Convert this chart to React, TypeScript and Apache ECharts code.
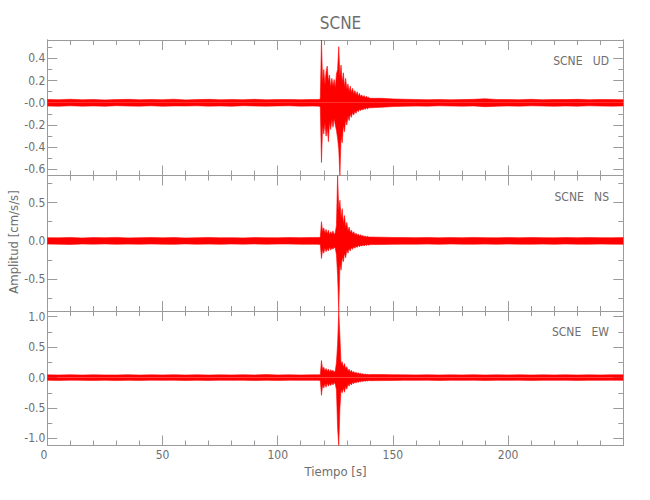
import React, { useEffect, useRef } from "react";
import * as echarts from "echarts";

// ---- time grids (s) ----
const tBefore = [0, 5, 10, 15, 20, 25, 30, 35, 40, 45, 50, 55, 60, 65, 70, 75, 80, 85, 90, 95, 100, 105, 110, 115];
const tEvent = [118, 118.5, 119, 119.5, 120, 120.5, 121, 121.5, 122, 122.5, 123, 123.5, 124, 124.5, 125, 125.5, 126, 126.5, 127, 127.5, 128, 128.5, 129, 129.5, 130, 130.5, 131, 131.5, 132, 132.5, 133, 133.5, 134, 134.5, 135, 135.5, 136, 136.5, 137, 137.5, 138, 138.5, 139, 139.5, 140];
const tAfter = [145, 150, 155, 160, 165, 170, 175, 180, 185, 190, 195, 200, 205, 210, 215, 220, 225, 230, 235, 240, 245, 250];

// ---- UD envelope (upper / lower peaks) ----
const udUpBefore = [0.030, 0.028, 0.032, 0.027, 0.030, 0.026, 0.029, 0.031, 0.027, 0.030, 0.028, 0.032, 0.026, 0.029, 0.031, 0.027, 0.030, 0.028, 0.031, 0.027, 0.029, 0.030, 0.028, 0.030];
const udLoBefore = [-0.029, -0.031, -0.027, -0.030, -0.028, -0.031, -0.026, -0.029, -0.030, -0.027, -0.031, -0.028, -0.029, -0.027, -0.030, -0.028, -0.031, -0.026, -0.029, -0.030, -0.028, -0.027, -0.030, -0.029];
const udUpEvent = [0.03, 0.04, 0.565, 0.18, 0.30, 0.16, 0.28, 0.33, 0.19, 0.25, 0.14, 0.22, 0.15, 0.21, 0.13, 0.26, 0.30, 0.505, 0.24, 0.34, 0.18, 0.27, 0.14, 0.22, 0.12, 0.17, 0.10, 0.15, 0.09, 0.13, 0.08, 0.11, 0.07, 0.10, 0.06, 0.085, 0.055, 0.07, 0.05, 0.065, 0.045, 0.06, 0.045, 0.05, 0.04];
const udLoEvent = [-0.03, -0.04, -0.537, -0.20, -0.28, -0.18, -0.30, -0.22, -0.35, -0.17, -0.24, -0.15, -0.22, -0.14, -0.20, -0.25, -0.32, -0.42, -0.654, -0.30, -0.36, -0.20, -0.26, -0.15, -0.20, -0.12, -0.16, -0.10, -0.13, -0.085, -0.11, -0.075, -0.095, -0.065, -0.08, -0.06, -0.07, -0.055, -0.065, -0.05, -0.06, -0.045, -0.055, -0.045, -0.045];
const udUpAfter = [0.040, 0.035, 0.032, 0.030, 0.028, 0.030, 0.027, 0.029, 0.031, 0.036, 0.030, 0.029, 0.028, 0.031, 0.027, 0.030, 0.029, 0.031, 0.028, 0.030, 0.029, 0.028];
const udLoAfter = [-0.040, -0.034, -0.031, -0.029, -0.030, -0.027, -0.029, -0.030, -0.028, -0.035, -0.031, -0.028, -0.030, -0.027, -0.029, -0.031, -0.028, -0.030, -0.027, -0.029, -0.030, -0.028];

// ---- NS envelope ----
const nsUpBefore = [0.042, 0.040, 0.045, 0.038, 0.043, 0.041, 0.046, 0.039, 0.042, 0.044, 0.040, 0.043, 0.038, 0.041, 0.044, 0.040, 0.042, 0.039, 0.043, 0.041, 0.040, 0.044, 0.042, 0.045];
const nsLoBefore = [-0.041, -0.043, -0.046, -0.040, -0.042, -0.039, -0.044, -0.041, -0.043, -0.040, -0.042, -0.045, -0.039, -0.043, -0.041, -0.044, -0.040, -0.042, -0.039, -0.043, -0.041, -0.040, -0.044, -0.043];
const nsUpEvent = [0.045, 0.05, 0.25, 0.12, 0.17, 0.10, 0.15, 0.09, 0.14, 0.08, 0.12, 0.09, 0.13, 0.08, 0.11, 0.20, 0.852, 0.40, 0.53, 0.30, 0.42, 0.22, 0.33, 0.17, 0.24, 0.13, 0.18, 0.11, 0.14, 0.09, 0.12, 0.08, 0.10, 0.07, 0.09, 0.065, 0.08, 0.06, 0.07, 0.055, 0.065, 0.05, 0.06, 0.05, 0.05];
const nsLoEvent = [-0.045, -0.05, -0.23, -0.11, -0.16, -0.09, -0.14, -0.10, -0.13, -0.08, -0.12, -0.09, -0.11, -0.08, -0.10, -0.18, -0.45, -0.913, -0.30, -0.38, -0.22, -0.27, -0.16, -0.22, -0.12, -0.16, -0.10, -0.13, -0.085, -0.11, -0.075, -0.095, -0.07, -0.085, -0.06, -0.075, -0.055, -0.07, -0.05, -0.065, -0.05, -0.06, -0.048, -0.055, -0.048];
const nsUpAfter = [0.048, 0.045, 0.043, 0.042, 0.044, 0.040, 0.043, 0.041, 0.045, 0.042, 0.040, 0.043, 0.041, 0.044, 0.042, 0.040, 0.043, 0.041, 0.044, 0.042, 0.041, 0.043];
const nsLoAfter = [-0.047, -0.044, -0.042, -0.043, -0.041, -0.044, -0.040, -0.042, -0.043, -0.041, -0.044, -0.040, -0.042, -0.043, -0.041, -0.044, -0.040, -0.042, -0.043, -0.041, -0.042, -0.044];

// ---- EW envelope ----
const ewUpBefore = [0.045, 0.043, 0.047, 0.042, 0.046, 0.044, 0.043, 0.048, 0.042, 0.045, 0.044, 0.047, 0.043, 0.046, 0.042, 0.045, 0.044, 0.047, 0.043, 0.050, 0.044, 0.046, 0.043, 0.045];
const ewLoBefore = [-0.044, -0.046, -0.042, -0.045, -0.047, -0.043, -0.049, -0.044, -0.046, -0.042, -0.045, -0.043, -0.047, -0.044, -0.046, -0.042, -0.045, -0.043, -0.048, -0.044, -0.046, -0.043, -0.045, -0.044];
const ewUpEvent = [0.045, 0.05, 0.28, 0.13, 0.17, 0.11, 0.15, 0.10, 0.14, 0.09, 0.13, 0.10, 0.12, 0.09, 0.11, 0.25, 0.55, 1.094, 0.67, 0.22, 0.26, 0.17, 0.23, 0.14, 0.18, 0.11, 0.14, 0.09, 0.12, 0.08, 0.10, 0.07, 0.09, 0.065, 0.08, 0.06, 0.07, 0.055, 0.065, 0.05, 0.06, 0.05, 0.055, 0.048, 0.05];
const ewLoEvent = [-0.045, -0.05, -0.29, -0.12, -0.17, -0.10, -0.16, -0.09, -0.14, -0.10, -0.13, -0.09, -0.12, -0.08, -0.11, -0.20, -0.83, -1.115, -0.50, -0.20, -0.25, -0.17, -0.24, -0.14, -0.19, -0.11, -0.14, -0.09, -0.12, -0.08, -0.10, -0.07, -0.09, -0.065, -0.08, -0.06, -0.07, -0.055, -0.065, -0.05, -0.06, -0.05, -0.055, -0.048, -0.05];
const ewUpAfter = [0.050, 0.047, 0.045, 0.044, 0.046, 0.043, 0.045, 0.044, 0.047, 0.043, 0.045, 0.044, 0.046, 0.043, 0.045, 0.044, 0.046, 0.043, 0.045, 0.044, 0.046, 0.045];
const ewLoAfter = [-0.049, -0.046, -0.044, -0.045, -0.043, -0.046, -0.044, -0.045, -0.043, -0.046, -0.044, -0.045, -0.043, -0.046, -0.044, -0.045, -0.043, -0.046, -0.044, -0.045, -0.043, -0.045];

// ---- ticks ----
const xTicks = [0, 50, 100, 150, 200];
const udTicks = [-0.6, -0.4, -0.2, 0, 0.2, 0.4];
const udMinor = [-0.5, -0.3, -0.1, 0.1, 0.3, 0.5];
const nsTicks = [-0.5, 0, 0.5];
const nsMinor = [-0.75, -0.25, 0.25, 0.75];
const ewTicks = [-1, -0.5, 0, 0.5, 1];
const ewMinor = [-0.75, -0.25, 0.25, 0.75];
const panelNames = ["SCNE   UD", "SCNE   NS", "SCNE   EW"];

const AXIS = "#9b9b9b";
const TEXT = "#6e6e6e";
const RED = "#ff0000";
const FONT = "'Liberation Sans Narrow', 'DejaVu Sans Condensed', 'Liberation Sans', sans-serif";

const seg = (t: number[], v: number[]) => {
  const n = Math.min(t.length, v.length);
  const out: number[][] = [];
  for (let i = 0; i < n; i++) out.push([t[i], v[i]]);
  return out;
};
const trace = (b: number[], e: number[], a: number[]) => [...seg(tBefore, b), ...seg(tEvent, e), ...seg(tAfter, a)];

export default function App() {
  const ref = useRef<HTMLDivElement>(null);
  useEffect(() => {
    if (!ref.current) return;
    const chart = echarts.init(ref.current, null, { renderer: "svg" });

    const panels = [
      { up: trace(udUpBefore, udUpEvent, udUpAfter), lo: trace(udLoBefore, udLoEvent, udLoAfter), majors: udTicks, minors: udMinor, fmt: (v: number) => (v === 0 ? "-0.0" : v.toFixed(1)) },
      { up: trace(nsUpBefore, nsUpEvent, nsUpAfter), lo: trace(nsLoBefore, nsLoEvent, nsLoAfter), majors: nsTicks, minors: nsMinor, fmt: (v: number) => v.toFixed(1) },
      { up: trace(ewUpBefore, ewUpEvent, ewUpAfter), lo: trace(ewLoBefore, ewLoEvent, ewLoAfter), majors: ewTicks, minors: ewMinor, fmt: (v: number) => v.toFixed(1) },
    ];
    const tops = [40, 175.5, 311];
    const heights = [135.5, 135.5, 134.5];
    const lineStyle = { color: AXIS, width: 1 };

    const grids: any[] = [];
    const xAxes: any[] = [];
    const yAxes: any[] = [];
    const series: any[] = [];
    const graphics: any[] = [];

    panels.forEach((p, g) => {
      grids.push({ left: 47.3, width: 576, top: tops[g], height: heights[g], containLabel: false });
      const ymin = Math.min(...p.lo.map((d) => d[1]));
      const ymax = Math.max(...p.up.map((d) => d[1]));
      ["bottom", "top"].forEach((pos, k) => {
        xAxes.push({
          gridIndex: g, type: "value", position: pos, min: 0, max: 250, interval: 50,
          axisLine: { show: true, onZero: false, lineStyle },
          axisTick: { show: true, inside: true, length: 10, lineStyle },
          minorTick: { show: true, splitNumber: 5, length: 5, lineStyle },
          axisLabel: { show: g === 2 && k === 0, customValues: xTicks, alignMinLabel: "right", margin: 3, color: TEXT, fontSize: 12, fontFamily: FONT },
          splitLine: { show: false },
        });
      });
      const yDefs = [
        { pos: "left", vals: p.majors, len: 10, label: true },
        { pos: "right", vals: p.majors, len: 10, label: false },
        { pos: "left", vals: p.minors, len: 5, label: false },
        { pos: "right", vals: p.minors, len: 5, label: false },
      ];
      yDefs.forEach((d) => {
        yAxes.push({
          gridIndex: g, type: "value", position: d.pos, min: ymin, max: ymax,
          axisLine: { show: true, onZero: false, lineStyle },
          axisTick: { show: true, inside: true, length: d.len, customValues: d.vals, lineStyle },
          axisLabel: { show: d.label, customValues: d.vals, formatter: p.fmt, margin: 2, color: TEXT, fontSize: 12, fontFamily: FONT },
          splitLine: { show: false },
        });
      });
      [p.up, p.lo].forEach((data) => {
        series.push({
          type: "line", xAxisIndex: g * 2, yAxisIndex: g * 4, data, symbol: "none", silent: true,
          lineStyle: { color: RED, width: 0.6 },
          areaStyle: { color: RED, opacity: 1 },
        });
      });
      graphics.push({
        type: "text", x: 609, y: tops[g] + 21,
        style: { text: panelNames[g], fill: TEXT, fontSize: 12, fontFamily: FONT, align: "right", verticalAlign: "middle" },
      });
    });

    graphics.push({
      type: "text", x: 13, y: 242, rotation: Math.PI / 2,
      style: { text: "Amplitud [cm/s/s]", fill: TEXT, fontSize: 13, fontFamily: FONT, align: "center", verticalAlign: "middle" },
    });
    graphics.push({
      type: "text", x: 335.5, y: 471.5,
      style: { text: "Tiempo [s]", fill: TEXT, fontSize: 13, fontFamily: FONT, align: "center", verticalAlign: "middle" },
    });

    chart.setOption({
      animation: false,
      backgroundColor: "#ffffff",
      title: { text: "SCNE", left: 335.5, top: 9, textAlign: "center", textStyle: { color: TEXT, fontSize: 17, fontWeight: "normal", fontFamily: FONT } },
      grid: grids,
      xAxis: xAxes,
      yAxis: yAxes,
      series,
      graphic: graphics,
    });
    return () => chart.dispose();
  }, []);
  return <div ref={ref} style={{ position: "absolute", left: 0, top: 0, width: 650, height: 500 }} />;
}
